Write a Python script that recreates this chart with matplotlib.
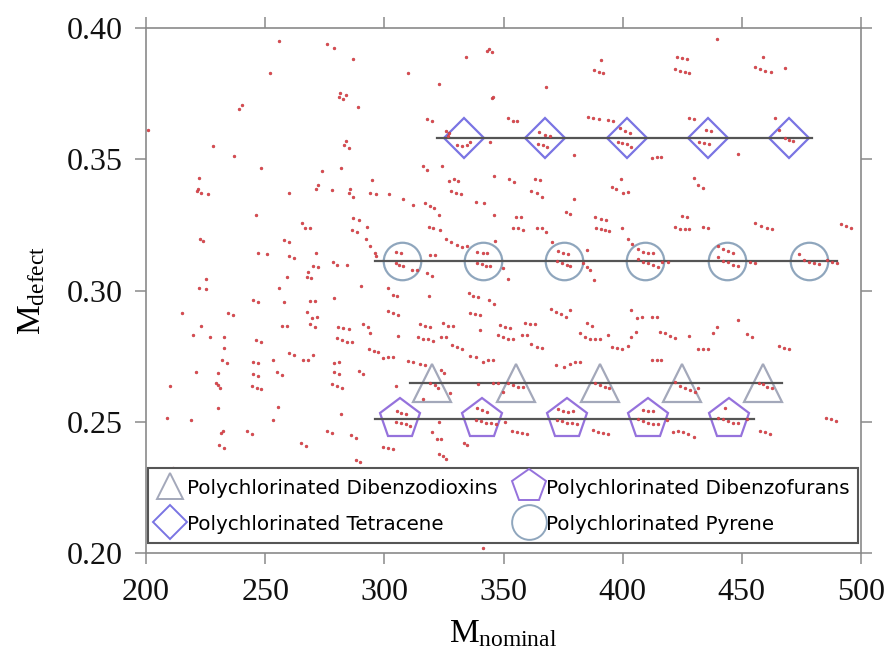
import matplotlib
matplotlib.use("Agg")
import matplotlib.pyplot as plt
from matplotlib.lines import Line2D

# ---- candidate peaks: (nominal mass, mass defect) ----
peaks_upper_left = [
    (255.9,0.3949),(275.8,0.3940),(279.0,0.3925),(286.8,0.3881),(251.9,0.3829),(240.1,0.3705),(239.0,0.3690),
    (281.4,0.3751),(283.9,0.3744),(281.1,0.3736),(282.8,0.3729),(289.1,0.3700),(200.8,0.3611),(228.1,0.3550),
    (237.0,0.3512),(248.1,0.3466),(283.9,0.3568),(283.1,0.3554),(285.0,0.3542),(281.9,0.3468),(273.8,0.3454),
    (294.9,0.3420),(222.1,0.3427),(221.9,0.3385),(221.3,0.3378),(222.9,0.3370),(225.9,0.3366),(260.1,0.3371),
    (272.1,0.3403),(271.2,0.3385),(278.1,0.3381),(285.6,0.3385),(285.2,0.3370),(286.8,0.3357),(294.0,0.3371),
    (296.4,0.3367),(246.1,0.3286),(287.0,0.3277),(289.2,0.3268),(265.6,0.3256),(266.7,0.3239),(268.8,0.3239),
    (292.8,0.3243),
]
peaks_upper_middle = [
    (344.0,0.3920),(343.2,0.3913),(345.1,0.3910),(334.1,0.3891),(310.0,0.3829),(323.0,0.3788),(390.9,0.3878),
    (388.0,0.3840),(390.2,0.3833),(391.8,0.3827),(367.9,0.3774),(345.3,0.3734),(345.7,0.3738),(317.7,0.3653),
    (319.8,0.3647),(352.0,0.3656),(353.8,0.3647),(355.7,0.3644),(385.5,0.3662),(387.6,0.3656),(390.1,0.3652),
    (393.9,0.3649),(396.0,0.3646),
    (326.0,0.3607),(327.0,0.3599),(326.6,0.3590),(330.6,0.3554),(332.4,0.3550),(334.5,0.3553),(335.9,0.3567),
    (344.3,0.3567),
    (365.0,0.3605),(367.4,0.3593),(369.5,0.3588),(364.6,0.3558),(366.7,0.3553),(368.1,0.3548),
    (379.7,0.3516),(316.3,0.3475),(318.0,0.3459),(324.0,0.3475),(346.1,0.3437),(327.2,0.3418),(329.2,0.3423),
    (331.0,0.3417),(352.3,0.3423),(354.4,0.3414),(363.2,0.3423),(365.3,0.3421),(327.9,0.3379),(330.0,0.3372),
    (332.0,0.3366),(302.1,0.3366),(307.9,0.3348),(311.9,0.3324),(361.5,0.3379),(363.9,0.3370),(366.0,0.3357),
    (317.0,0.3332),(319.1,0.3322),(320.9,0.3313),(322.9,0.3287),(338.4,0.3338),(341.8,0.3332),(379.7,0.3350),
    (376.2,0.3300),(378.0,0.3291),(395.6,0.3395),(397.4,0.3386),(346.1,0.3287),(355.1,0.3281),(357.3,0.3279),
    (388.6,0.3281),(390.7,0.3272),(393.2,0.3268),(318.8,0.3243),(320.5,0.3237),(354.0,0.3239),(356.2,0.3237),
    (363.9,0.3239),(366.0,0.3237),(389.0,0.3239),(390.9,0.3234),
]
peaks_upper_right = [
    (439.6,0.3959),(422.6,0.3888),(424.7,0.3887),(427.1,0.3881),(421.9,0.3843),(424.0,0.3837),(426.1,0.3833),
    (427.9,0.3827),(458.9,0.3891),(455.7,0.3850),(457.6,0.3843),(459.9,0.3836),(462.2,0.3833),(468.1,0.3846),
    (398.8,0.3618),(400.9,0.3607),(403.0,0.3601),(398.1,0.3567),(399.9,0.3561),(401.9,0.3557),(403.7,0.3548),
    (427.9,0.3658),(430.0,0.3652),
    (434.9,0.3611),(437.0,0.3609),(432.1,0.3567),(434.2,0.3563),(436.3,0.3557),
    (412.1,0.3503),(414.2,0.3507),(416.0,0.3507),(448.2,0.3519),(464.1,0.3658),(465.5,0.3611),(468.0,0.3580),
    (469.8,0.3573),(471.5,0.3569),
    (399.2,0.3425),(400.2,0.3370),(402.3,0.3376),(430.0,0.3427),(431.7,0.3402),(433.8,0.3389),(399.9,0.3237),
    (424.7,0.3284),(426.8,0.3279),(421.9,0.3243),(424.0,0.3235),(426.1,0.3233),(427.9,0.3234),(433.8,0.3243),
    (435.8,0.3240),(455.7,0.3256),(458.0,0.3247),(460.4,0.3237),(462.5,0.3233),(491.5,0.3253),(493.5,0.3247),
    (495.6,0.3237),
]
peaks_lower_left = [
    (222.7,0.3196),(224.0,0.3189),(247.1,0.3141),(250.6,0.3139),(257.9,0.3192),(260.1,0.3184),(260.1,0.3132),
    (262.1,0.3122),(271.2,0.3141),(269.9,0.3094),(272.3,0.3088),(268.1,0.3069),(267.4,0.3052),(269.1,0.3046),
    (278.3,0.3107),(280.0,0.3097),(284.2,0.3097),(286.3,0.3230),(288.4,0.3221),(292.2,0.3196),(294.0,0.3170),
    (296.5,0.3132),(225.2,0.3042),(222.2,0.3008),(225.2,0.3006),(259.0,0.3050),(255.9,0.3008),(290.2,0.3017),
    (279.0,0.2972),(245.0,0.2963),(247.1,0.2956),(257.9,0.2956),(268.8,0.2961),(271.0,0.2960),(215.0,0.2913),
    (234.3,0.2913),(236.4,0.2906),(267.7,0.2917),(269.8,0.2897),(271.9,0.2900),(223.1,0.2866),(256.9,0.2866),
    (259.0,0.2866),(268.8,0.2871),(271.0,0.2862),(280.6,0.2862),(282.8,0.2856),(285.2,0.2853),(291.1,0.2871),
    (293.0,0.2862),(219.8,0.2831),(226.8,0.2824),(232.8,0.2824),(246.1,0.2811),(248.2,0.2805),(280.0,0.2820),
    (282.1,0.2811),(284.2,0.2805),(286.3,0.2802),(232.8,0.2782),(293.7,0.2776),(295.8,0.2769),(297.4,0.2766),
    (260.1,0.2763),(262.1,0.2756),(266.0,0.2737),(268.1,0.2737),(269.9,0.2756),(253.1,0.2737),(231.8,0.2735),
    (234.1,0.2724),(244.8,0.2728),(247.1,0.2722),(279.0,0.2722),(281.0,0.2728),(221.0,0.2688),(230.1,0.2684),
    (245.0,0.2681),(247.1,0.2676),(255.1,0.2688),(256.9,0.2680),(279.0,0.2690),(281.0,0.2681),(289.3,0.2693),
    (291.1,0.2681),(210.1,0.2636),(229.4,0.2646),(230.1,0.2639),(231.0,0.2629),(244.3,0.2637),(246.4,0.2629),
    (248.2,0.2624),(278.1,0.2642),(280.0,0.2636),(282.1,0.2627),(255.2,0.2557),(230.1,0.2553),(281.8,0.2529),
    (208.7,0.2513),(218.9,0.2506),(253.1,0.2506),(231.5,0.2459),(232.2,0.2465),(242.2,0.2464),(244.3,0.2455),
    (275.8,0.2464),(278.1,0.2459),(286.0,0.2449),(288.1,0.2440),(230.7,0.2413),(232.8,0.2401),(265.0,0.2420),
    (267.0,0.2408),(288.3,0.2354),(289.9,0.2347),(211.2,0.2322),
]
peaks_lower_middle = [
    (323.3,0.3230),(358.3,0.3230),(368.0,0.3224),(392.5,0.3230),(394.3,0.3226),(325.8,0.3196),(327.9,0.3186),
    (330.6,0.3173),(332.4,0.3167),(334.5,0.3170),(296.1,0.3141),
    (304.9,0.3148),(307.0,0.3144),(304.9,0.3103),(306.3,0.3097),(308.0,0.3093),(311.5,0.3078),(313.6,0.3080),
    (319.1,0.3135),(321.2,0.3135),(317.7,0.3065),(319.8,0.3056),
    (338.7,0.3148),(341.2,0.3141),(343.2,0.3144),(338.7,0.3106),(340.8,0.3100),(342.6,0.3094),(344.3,0.3094),
    (346.4,0.3189),(349.9,0.3084),(352.0,0.3043),
    (373.0,0.3150),(375.1,0.3141),(377.1,0.3138),(372.3,0.3112),(374.4,0.3106),(376.5,0.3099),(377.9,0.3094),
    (383.4,0.3106),(384.9,0.3090),(386.2,0.3080),
    (370.2,0.3183),(384.9,0.3154),(388.0,0.3040),(301.6,0.3008),(303.5,0.2982),(305.2,0.2979),(318.8,0.2979),
    (335.6,0.2991),(337.3,0.2979),(339.4,0.2976),(344.0,0.2963),(346.1,0.2947),(301.6,0.2921),(303.7,0.2913),
    (305.8,0.2906),(335.9,0.2913),(338.0,0.2909),(340.1,0.2906),(369.9,0.2929),(372.0,0.2919),(374.1,0.2910),
    (376.2,0.2900),(377.9,0.2925),(314.9,0.2871),(317.0,0.2864),(319.1,0.2862),(324.7,0.2875),(326.8,0.2864),
    (328.9,0.2864),(340.1,0.2849),(348.5,0.2868),(350.6,0.2862),(352.7,0.2859),(359.0,0.2877),(361.1,0.2871),
    (363.2,0.2871),(384.9,0.2875),(387.0,0.2864),(294.0,0.2837),(305.8,0.2827),(314.2,0.2824),(316.3,0.2817),
    (318.4,0.2814),(320.5,0.2808),(323.7,0.2824),(325.8,0.2824),(347.8,0.2830),(349.9,0.2824),(352.0,0.2817),
    (354.1,0.2814),(357.8,0.2830),(359.9,0.2830),(382.0,0.2837),(384.1,0.2824),(386.2,0.2817),(388.3,0.2817),
    (390.4,0.2814),(393.9,0.2830),(361.7,0.2798),(363.9,0.2785),(366.0,0.2782),(328.2,0.2792),(330.3,0.2785),
    (332.4,0.2779),(395.7,0.2785),(397.7,0.2782),(335.9,0.2750),(338.4,0.2745),(341.5,0.2728),(343.6,0.2735),
    (345.7,0.2735),(299.5,0.2741),(301.6,0.2745),(303.7,0.2745),(310.0,0.2732),(312.1,0.2726),(314.9,0.2720),
    (317.0,0.2716),(372.0,0.2716),(375.5,0.2709),(377.9,0.2720),(380.0,0.2726),(382.0,0.2728),(323.7,0.2697),
    (325.0,0.2686),(304.9,0.2636),(319.1,0.2648),(321.2,0.2639),(322.6,0.2627),(327.5,0.2608),(316.3,0.2585),
    (339.4,0.2643),(345.7,0.2648),(347.8,0.2646),(352.0,0.2646),(354.1,0.2639),(356.2,0.2633),(358.3,0.2633),
    (349.9,0.2614),(388.3,0.2648),(390.4,0.2639),(392.5,0.2633),(394.3,0.2629),
    (305.2,0.2542),(307.2,0.2534),(309.1,0.2528),(304.9,0.2500),(307.0,0.2494),(309.1,0.2490),(310.7,0.2484),
    (322.9,0.2500),(319.8,0.2462),(321.9,0.2433),(323.7,0.2436),(299.5,0.2404),(301.6,0.2401),(303.5,0.2398),
    (333.4,0.2420),(334.6,0.2411),(322.9,0.2379),(324.5,0.2369),(325.8,0.2360),(341.4,0.2018),
    (338.7,0.2553),(340.8,0.2544),(342.9,0.2538),(338.4,0.2506),(340.5,0.2502),(342.6,0.2497),(344.7,0.2494),
    (346.8,0.2491),(350.6,0.2500),(353.4,0.2465),(355.5,0.2462),(357.6,0.2458),(359.7,0.2455),
    (373.0,0.2548),(375.1,0.2540),(377.1,0.2538),(379.0,0.2542),(372.3,0.2506),(374.4,0.2502),(376.5,0.2497),
    (378.6,0.2494),(380.7,0.2490),(387.6,0.2468),(389.7,0.2462),(391.8,0.2459),(393.9,0.2455),
]
peaks_lower_right = [
    (402.1,0.3196),(404.1,0.3176),(406.5,0.3160),(408.6,0.3148),(410.7,0.3144),(412.8,0.3141),(406.5,0.3119),
    (408.6,0.3110),(410.7,0.3103),(412.8,0.3097),(414.9,0.3090),(416.3,0.3110),(419.1,0.3110),
    (440.1,0.3169),(442.2,0.3160),(444.3,0.3150),(446.4,0.3144),(440.1,0.3129),(442.2,0.3113),(444.3,0.3107),
    (446.4,0.3099),(448.2,0.3093),(453.4,0.3109),(455.5,0.3106),
    (474.0,0.3138),(476.1,0.3118),(478.2,0.3109),(480.3,0.3106),(482.4,0.3101),(485.9,0.3116),(488.0,0.3109),
    (490.1,0.3106),
    (403.7,0.2925),(406.2,0.2897),(408.3,0.2900),(412.1,0.2900),(414.2,0.2900),(403.7,0.2824),(405.8,0.2843),
    (415.6,0.2843),(417.7,0.2837),(419.8,0.2826),(421.9,0.2820),(427.9,0.2827),(438.0,0.2839),(439.7,0.2862),
    (448.2,0.2887),(452.0,0.2834),(454.1,0.2824),(399.9,0.2776),(402.1,0.2788),(431.7,0.2779),(433.8,0.2779),
    (435.9,0.2779),(465.5,0.2788),(467.6,0.2782),(469.7,0.2776),(412.1,0.2735),(414.2,0.2737),(416.0,0.2735),
    (421.9,0.2650),(424.0,0.2637),(426.1,0.2629),(428.2,0.2620),(430.3,0.2614),(431.7,0.2627),
    (457.2,0.2646),(458.9,0.2642),(460.4,0.2633),(462.5,0.2627),
    (408.6,0.2544),(410.7,0.2542),(412.8,0.2542),(406.5,0.2509),(408.6,0.2502),(410.7,0.2497),(412.8,0.2491),
    (414.9,0.2491),(418.4,0.2506),(421.2,0.2462),(423.3,0.2465),(425.4,0.2462),(427.5,0.2455),(430.0,0.2442),
    (442.9,0.2554),(440.1,0.2513),(442.2,0.2509),(444.3,0.2502),(446.4,0.2496),(448.5,0.2494),(452.0,0.2509),
    (457.5,0.2465),(459.6,0.2462),(461.7,0.2455),(485.5,0.2515),(487.6,0.2509),(489.7,0.2503),
]

# ---- homologue series (nominal mass of each chlorination step, common mass defect) ----
tetracene_mass = [333.5, 367.5, 401.7, 436.0, 469.8]
tetracene_defect = 0.358
tetracene_span = [322.0, 479.5]

pyrene_mass = [307.3, 341.5, 375.2, 409.5, 443.7, 478.2]
pyrene_defect = 0.3113
pyrene_span = [296.0, 490.0]

dioxin_mass = [319.8, 355.3, 390.6, 424.8, 458.8]
dioxin_defect = 0.2648
dioxin_span = [310.7, 467.0]

furan_mass = [306.6, 340.9, 376.6, 410.6, 444.6]
furan_defect = 0.2509
furan_span = [296.0, 455.0]

x_ticks = [200, 250, 300, 350, 400, 450, 500]
y_ticks = [0.20, 0.25, 0.30, 0.35, 0.40]

legend_labels = ["Polychlorinated Dibenzodioxins", "Polychlorinated Tetracene",
                 "Polychlorinated Dibenzofurans", "Polychlorinated Pyrene"]

# ---- styling ----
plt.rcParams["mathtext.fontset"] = "custom"
plt.rcParams["mathtext.rm"] = "Liberation Serif"
serif = "Liberation Serif"
axis_grey = "#8a8a8a"
line_grey = "#555555"
dot_red = "#e2474d"
c_diamond = "#7a74e3"
c_circle = "#8fa6bd"
c_triangle = "#a3a8ba"
c_pentagon = "#9572dc"

fig = plt.figure(figsize=(8.87, 6.6), dpi=100)
ax = fig.add_axes([146 / 887, 1 - 553 / 660, 715 / 887, 525 / 660])

# series markers and their guide lines
series = [
    (dioxin_mass, dioxin_defect, dioxin_span, "^", 27, c_triangle),
    (furan_mass, furan_defect, furan_span, "p", 30, c_pentagon),
    (tetracene_mass, tetracene_defect, tetracene_span, "D", 20, c_diamond),
    (pyrene_mass, pyrene_defect, pyrene_span, "o", 27, c_circle),
]
for masses, defect, span, mk, ms, col in series:
    ax.plot(masses, [defect] * len(masses), linestyle="none", marker=mk, ms=ms,
            mfc="none", mec=col, mew=1.6, zorder=2)
    ax.plot(span, [defect, defect], color=line_grey, lw=1.6, zorder=3)

# candidate peaks
all_peaks = (peaks_upper_left + peaks_upper_middle + peaks_upper_right
             + peaks_lower_left + peaks_lower_middle + peaks_lower_right)
ax.plot([p[0] for p in all_peaks], [p[1] for p in all_peaks], linestyle="none",
        marker="o", ms=2.1, mfc=dot_red, mec="#b03a40", mew=0.3, zorder=4)

ax.set_xlim(200, 500)
ax.set_ylim(0.20, 0.40)
ax.set_xticks(x_ticks)
ax.set_yticks(y_ticks)
ax.set_xticklabels([str(t) for t in x_ticks])
ax.set_yticklabels([f"{t:.2f}" for t in y_ticks])

for side in ["left", "right", "top", "bottom"]:
    ax.spines[side].set_color(axis_grey)
    ax.spines[side].set_linewidth(1.2)
ax.tick_params(axis="both", which="both", direction="out", length=8, width=1.1,
               color=axis_grey, top=True, right=True, labelsize=23,
               labelcolor="#111111")
ax.tick_params(axis="x", pad=10)
ax.tick_params(axis="y", pad=9)
for lab in ax.get_xticklabels() + ax.get_yticklabels():
    lab.set_fontfamily(serif)

ax.set_xlabel(r"$\mathregular{M_{nominal}}$", fontsize=24, fontfamily=serif, labelpad=8)
ax.set_ylabel(r"$\mathregular{M_{defect}}$", fontsize=24, fontfamily=serif, labelpad=14)

handles = [
    Line2D([], [], linestyle="none", marker="^", ms=19, mfc="none", mec=c_triangle, mew=1.4),
    Line2D([], [], linestyle="none", marker="D", ms=17, mfc="none", mec=c_diamond, mew=1.4),
    Line2D([], [], linestyle="none", marker="p", ms=25, mfc="none", mec=c_pentagon, mew=1.4),
    Line2D([], [], linestyle="none", marker="o", ms=25, mfc="none", mec=c_circle, mew=1.4),
]
leg = ax.legend(handles, legend_labels, ncol=2, loc="lower left",
                bbox_to_anchor=(0.003, 0.019, 0.993, 0.137), mode="expand",
                handlelength=1.3, handleheight=1.24, handletextpad=0.2, columnspacing=0.2,
                borderpad=0.45, labelspacing=0.75, borderaxespad=0, fancybox=False,
                framealpha=1, edgecolor="#555555", prop={"family": "DejaVu Sans", "size": 14.3})
leg.get_frame().set_linewidth(1.5)
leg.set_zorder(10)

fig.savefig("out.png", dpi=100)
